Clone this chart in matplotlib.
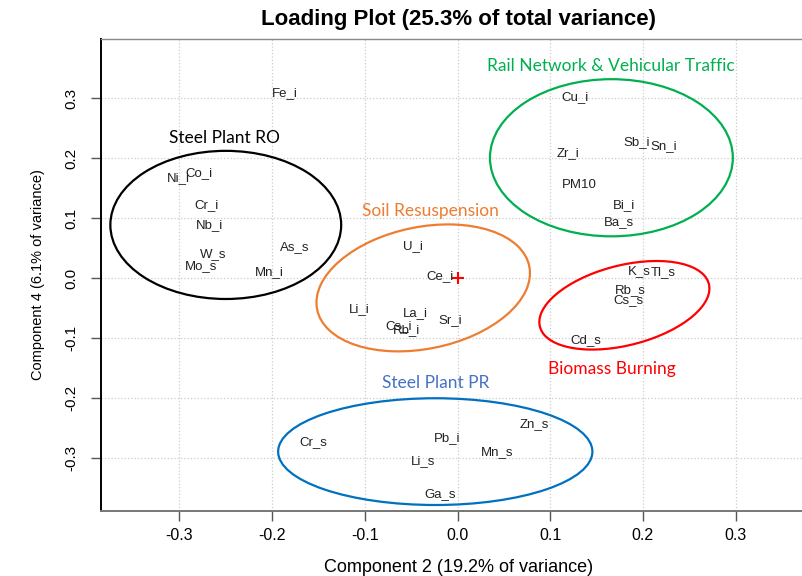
import matplotlib.pyplot as plt
from matplotlib.patches import Ellipse

# loadings on component 2 (x) and component 4 (y)
labels = ['Fe_i', 'Co_i', 'Ni_i', 'Cr_i', 'Nb_i', 'W_s', 'Mo_s', 'As_s', 'Mn_i',
          'U_i', 'Ce_i', 'Li_i', 'La_i', 'Sr_i', 'Cs_i', 'Rb_i',
          'Cu_i', 'Sb_i', 'Sn_i', 'Zr_i', 'PM10', 'Bi_i', 'Ba_s',
          'K_s', 'Tl_s', 'Rb_s', 'Cs_s', 'Cd_s',
          'Zn_s', 'Pb_i', 'Mn_s', 'Cr_s', 'Li_s', 'Ga_s']
comp2 = [-0.186, -0.279, -0.301, -0.271, -0.268, -0.264, -0.277, -0.176, -0.203,
         -0.048, -0.019, -0.106, -0.046, -0.008, -0.064, -0.055,
         0.127, 0.193, 0.222, 0.119, 0.131, 0.180, 0.174,
         0.196, 0.222, 0.186, 0.184, 0.138,
         0.083, -0.011, 0.043, -0.156, -0.037, -0.019]
comp4 = [0.309, 0.175, 0.167, 0.122, 0.089, 0.040, 0.021, 0.052, 0.011,
         0.054, 0.004, -0.051, -0.058, -0.070, -0.079, -0.087,
         0.302, 0.227, 0.221, 0.208, 0.155, 0.122, 0.094,
         0.012, 0.011, -0.020, -0.036, -0.103,
         -0.243, -0.266, -0.289, -0.273, -0.304, -0.359]

# source groups: name, ellipse centre, width, height, angle, colours, label position
groups = ['Steel Plant RO', 'Rail Network & Vehicular Traffic', 'Soil Resuspension',
          'Biomass Burning', 'Steel Plant PR']
centres = [(-0.250, 0.089), (0.166, 0.201), (-0.037, -0.016), (0.180, -0.045), (-0.024, -0.289)]
widths = [0.249, 0.262, 0.247, 0.199, 0.339]
heights = [0.247, 0.262, 0.192, 0.126, 0.178]
angles = [0, 0, 35, 30, 0]
edge_cols = ['black', '#00B050', '#ED7D31', '#FF0000', '#0070C0']
text_cols = ['black', '#00B050', '#ED7D31', '#FF0000', '#4472C4']
group_pos = [(-0.251, 0.234), (0.165, 0.354), (-0.029, 0.112), (0.166, -0.151), (-0.024, -0.175)]

ticks = [-0.3, -0.2, -0.1, 0.0, 0.1, 0.2, 0.3]

fig = plt.figure(figsize=(8.03, 5.76), dpi=100)
ax = fig.add_axes([101 / 803, 65 / 576, 716 / 803, 472 / 576])
ax.set_xlim(-0.3846, 0.3878)
ax.set_ylim(-0.388, 0.399)

ax.set_xticks(ticks)
ax.set_yticks(ticks)
ax.set_xticklabels([f'{t:.1f}' for t in ticks], fontsize=11.5, family='Liberation Sans')
ax.set_yticklabels([f'{t:.1f}' for t in ticks], fontsize=11, family='Liberation Sans',
                   rotation=90, va='center')
ax.tick_params(axis='both', direction='out', length=7, width=1, color='#555555')
ax.tick_params(axis='y', pad=9)
ax.tick_params(axis='x', pad=5)
ax.grid(True, linestyle=':', color='#cccccc', linewidth=0.9)
ax.set_axisbelow(True)

ax.spines['left'].set_color('black')
ax.spines['left'].set_linewidth(1.4)
ax.spines['bottom'].set_color('#777777')
ax.spines['bottom'].set_linewidth(1.4)
ax.spines['top'].set_color('#888888')
ax.spines['top'].set_linewidth(1.0)
ax.spines['right'].set_visible(False)

for name, c, w, h, a, ec, tc, pos in zip(groups, centres, widths, heights, angles,
                                         edge_cols, text_cols, group_pos):
    ax.add_patch(Ellipse(c, w, h, angle=a, fill=False, edgecolor=ec, linewidth=1.6))
    ax.text(pos[0], pos[1], name, color=tc, fontsize=12.5, family='Lato',
            ha='center', va='center')

for lab, x, y in zip(labels, comp2, comp4):
    ax.text(x, y, lab, fontsize=9.5, family='Liberation Sans', color='#222222',
            ha='center', va='center')

ax.plot(0, 0, marker='+', color='red', markersize=9, markeredgewidth=1.5)

ax.set_title('Loading Plot (25.3% of total variance)', fontsize=16, fontweight='bold',
             family='Liberation Sans', pad=10)
ax.set_xlabel('Component 2 (19.2% of variance)', fontsize=13, family='Liberation Sans',
              labelpad=12)
ax.set_ylabel('Component 4 (6.1% of variance)', fontsize=10.5, family='Liberation Sans',
              labelpad=14)

fig.savefig('out.png', dpi=100)
